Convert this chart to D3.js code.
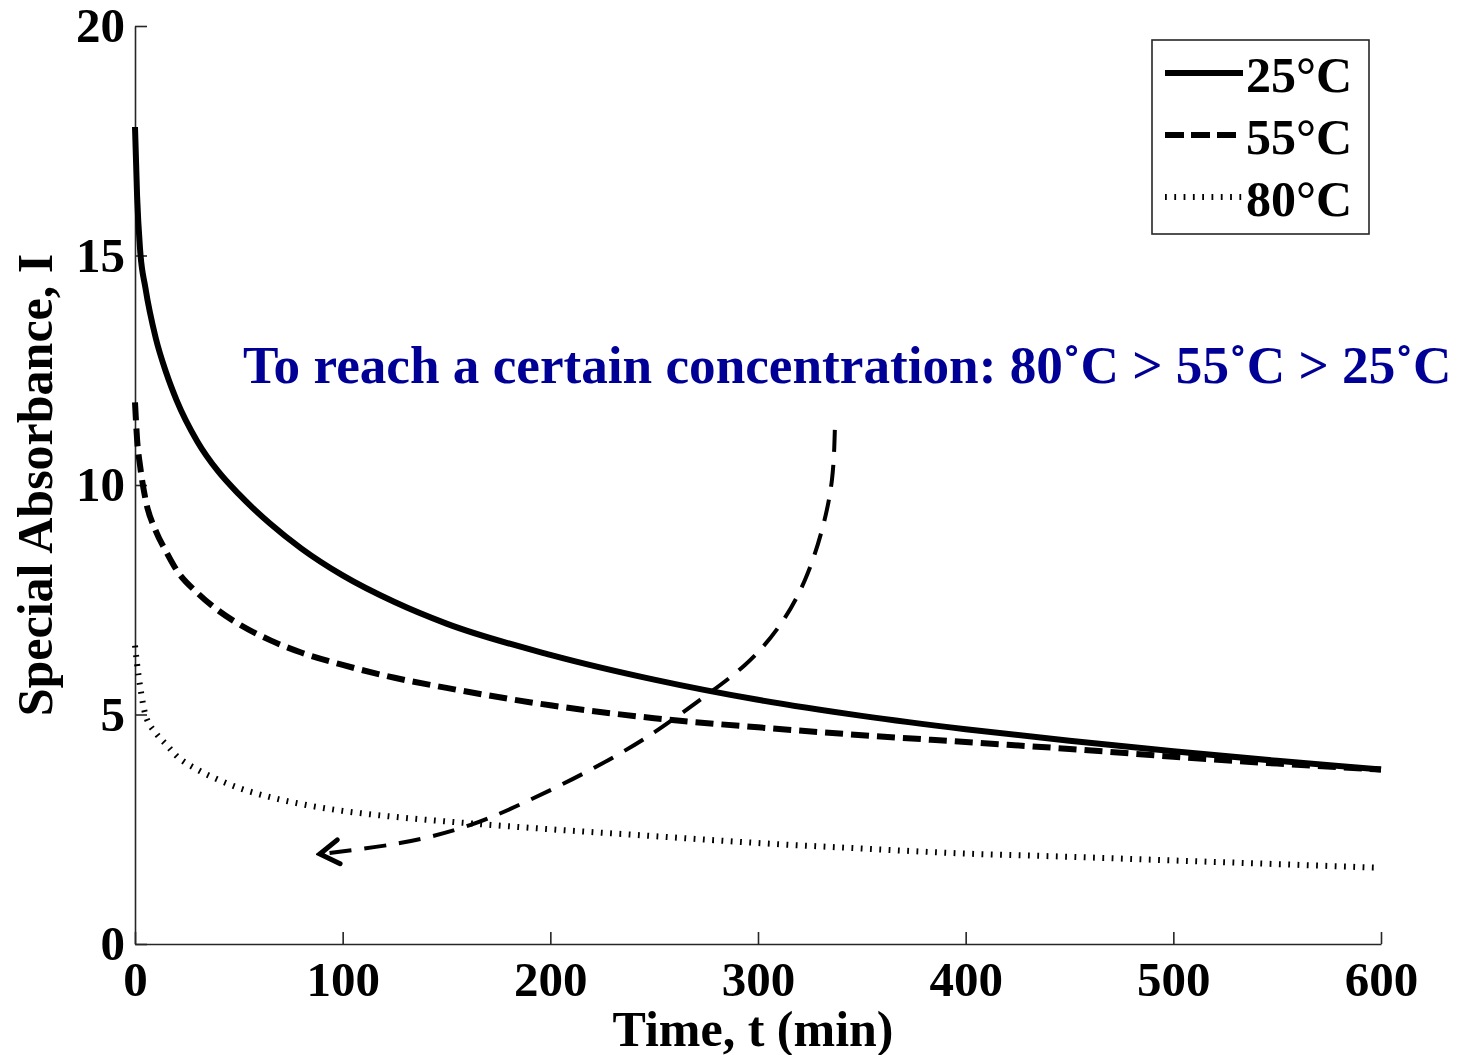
<!DOCTYPE html>
<html>
<head>
<meta charset="utf-8">
<script src="https://cdn.jsdelivr.net/npm/d3@7"></script>
<style>
  html, body { margin: 0; padding: 0; background: #fff; }
  svg text { font-family: "Liberation Serif", "Times New Roman", serif; font-weight: bold; }
</style>
</head>
<body>
<div id="chart"></div>
<script>
const width = 1457;
const height = 1055;

// plot box in page pixels
const plotLeft = 135, plotRight = 1381, plotTop = 26, plotBottom = 944;

// sample times (min) and absorbance for each temperature
const times = [0, 1, 2.5, 5, 10, 15, 20, 30, 40, 50, 65, 80, 100, 125, 150, 200, 250, 300, 350, 400, 450, 500, 550, 600];
const abs25 = [17.8, 16.3, 15.1, 14.3, 13.2, 12.45, 11.85, 10.95, 10.3, 9.8, 9.16, 8.62, 8.03, 7.45, 6.98, 6.3, 5.76, 5.32, 4.97, 4.68, 4.43, 4.2, 3.99, 3.8];
const abs55 = [11.8, 11.0, 10.4, 9.7, 9.0, 8.55, 8.15, 7.65, 7.27, 6.97, 6.62, 6.35, 6.08, 5.8, 5.58, 5.2, 4.92, 4.72, 4.55, 4.4, 4.25, 4.08, 3.93, 3.8];
const abs80 = [6.5, 6.1, 5.6, 5.0, 4.6, 4.35, 4.1, 3.8, 3.58, 3.4, 3.2, 3.05, 2.9, 2.77, 2.67, 2.5, 2.35, 2.2, 2.08, 1.97, 1.9, 1.82, 1.74, 1.66];

const seriesNames = ['25°C', '55°C', '80°C'];
const xTicks = [0, 100, 200, 300, 400, 500, 600];
const yTicks = [0, 5, 10, 15, 20];

// annotation arrow path (t, I), drawn from its tail to the head
const arrowT = [337, 335.6, 330.8, 322.6, 310.6, 293.7, 272.1, 248, 219.1, 190.2, 161.3, 127.6, 89];
const arrowI = [11.2, 10.11, 9.02, 7.93, 6.95, 6.08, 5.32, 4.55, 3.79, 3.14, 2.59, 2.2, 1.96];
const noteText = 'To reach a certain concentration: 80˚C > 55˚C > 25˚C';

const styles = [
  { dash: null, w: 6 },
  { dash: '18,8', w: 6 },
  { dash: '1.8,7.5', w: 6 }
];

const svg = d3.select('#chart').append('svg')
  .attr('width', width)
  .attr('height', height);

const x = d3.scaleLinear().domain([0, 600]).range([plotLeft, plotRight]);
const y = d3.scaleLinear().domain([0, 20]).range([plotBottom, plotTop]);

// axes: ticks point inward, no box
const xAxis = svg.append('g')
  .attr('transform', `translate(0,${plotBottom})`)
  .call(d3.axisBottom(x).tickValues(xTicks).tickSizeInner(-12).tickSizeOuter(0).tickPadding(17));
const yAxis = svg.append('g')
  .attr('transform', `translate(${plotLeft},0)`)
  .call(d3.axisLeft(y).tickValues(yTicks).tickSizeInner(-12).tickSizeOuter(0).tickPadding(10));

[xAxis, yAxis].forEach(g => {
  g.selectAll('path, line').attr('stroke', '#262626').attr('stroke-width', 1.6);
  g.selectAll('text').attr('fill', '#000').style('font-size', '49px')
    .style('font-family', '"Liberation Serif", serif').style('font-weight', 'bold');
});

// curves
const line = d3.line()
  .x(d => x(d[0]))
  .y(d => y(d[1]))
  .curve(d3.curveMonotoneX);

[abs25, abs55, abs80].forEach((vals, i) => {
  const pts = times.map((t, k) => [t, vals[k]]);
  svg.append('path')
    .datum(pts)
    .attr('d', line)
    .attr('fill', 'none')
    .attr('stroke', '#000')
    .attr('stroke-width', styles[i].w)
    .attr('stroke-dasharray', styles[i].dash)
    .attr('stroke-linecap', 'butt');
});

// axis titles
svg.append('text')
  .attr('x', 753)
  .attr('y', 1046)
  .attr('text-anchor', 'middle')
  .style('font-size', '50px')
  .text('Time, t (min)');

svg.append('text')
  .attr('transform', 'translate(52,485) rotate(-90)')
  .attr('text-anchor', 'middle')
  .style('font-size', '50px')
  .text('Special Absorbance, I');

// legend
const legend = svg.append('g');
legend.append('rect')
  .attr('x', 1152).attr('y', 40)
  .attr('width', 217).attr('height', 194)
  .attr('fill', '#fff')
  .attr('stroke', '#262626')
  .attr('stroke-width', 1.6);

seriesNames.forEach((name, i) => {
  const ly = 73 + i * 62;
  legend.append('line')
    .attr('x1', 1165).attr('x2', 1243)
    .attr('y1', ly).attr('y2', ly)
    .attr('stroke', '#000')
    .attr('stroke-width', styles[i].w)
    .attr('stroke-dasharray', i === 1 ? '19,7' : styles[i].dash);
  legend.append('text')
    .attr('x', 1246)
    .attr('y', ly + 19)
    .style('font-size', '50px')
    .text(name);
});

// annotation text
svg.append('text')
  .attr('x', 243)
  .attr('y', 383)
  .attr('fill', '#000096')
  .style('font-size', '53.2px')
  .text(noteText);

// dashed curved arrow
const defs = svg.append('defs');
defs.append('marker')
  .attr('id', 'head')
  .attr('viewBox', '-24 -16 28 32')
  .attr('markerUnits', 'userSpaceOnUse')
  .attr('markerWidth', 28)
  .attr('markerHeight', 32)
  .attr('refX', 0).attr('refY', 0)
  .attr('orient', 'auto')
  .append('path')
  .attr('d', 'M-19,-12 L0,0 L-19,12')
  .attr('fill', 'none')
  .attr('stroke', '#000')
  .attr('stroke-width', 5)
  .attr('stroke-linecap', 'round');

const arrowLine = d3.line()
  .x(d => x(d[0]))
  .y(d => y(d[1]))
  .curve(d3.curveNatural);

svg.append('path')
  .datum(arrowT.map((t, k) => [t, arrowI[k]]))
  .attr('d', arrowLine)
  .attr('fill', 'none')
  .attr('stroke', '#000')
  .attr('stroke-width', 4)
  .attr('stroke-dasharray', '22,13')
  .attr('marker-end', 'url(#head)');
</script>
</body>
</html>
